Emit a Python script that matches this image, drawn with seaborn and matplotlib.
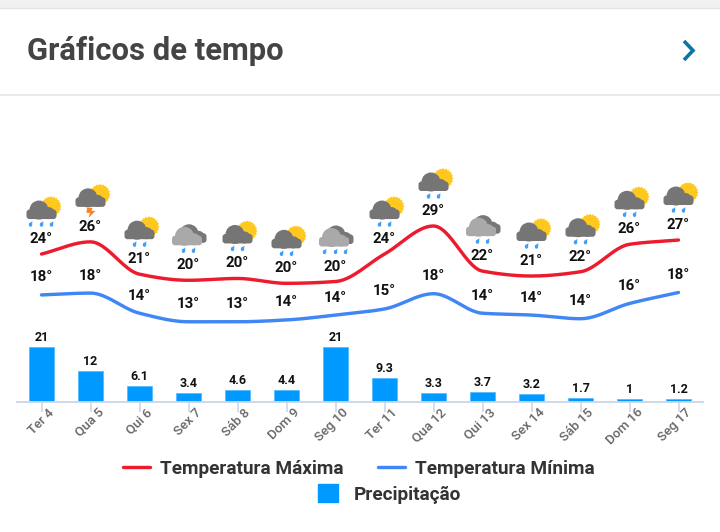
import numpy as np
import matplotlib
matplotlib.use("Agg")
import matplotlib.pyplot as plt
import seaborn as sns
from matplotlib.patches import Circle, Ellipse, FancyBboxPatch, Polygon, Patch, Rectangle
from matplotlib.lines import Line2D
from matplotlib.transforms import ScaledTranslation

days = ["Ter 4", "Qua 5", "Qui 6", "Sex 7", "Sáb 8", "Dom 9", "Seg 10",
        "Ter 11", "Qua 12", "Qui 13", "Sex 14", "Sáb 15", "Dom 16", "Seg 17"]
precip = [21, 12, 6.1, 3.4, 4.6, 4.4, 21, 9.3, 3.3, 3.7, 3.2, 1.7, 1, 1.2]
temp_max = [24.4, 26.4, 21.1, 20.1, 20.4, 19.6, 19.9, 24.4, 29.0, 21.6, 20.8, 21.5, 26.0, 26.7]
temp_min = [17.7, 18.0, 14.7, 13.3, 13.3, 13.6, 14.4, 15.4, 17.9, 14.7, 14.4, 13.8, 16.3, 18.1]
max_labels = [24, 26, 21, 20, 20, 20, 20, 24, 29, 22, 21, 22, 26, 27]
min_labels = [18, 18, 14, 13, 13, 14, 14, 15, 18, 14, 14, 14, 16, 18]
icons = ["sun3", "bolt", "sun2", "gray2", "sun2", "sun2", "gray3",
         "sun2", "sun2", "gray2", "sun2", "sun2", "sun2", "sun2"]

sns.set_theme(style="white")
plt.rcParams["font.family"] = ["Roboto", "DejaVu Sans"]

W, H = 720, 532
fig = plt.figure(figsize=(W / 100, H / 100), dpi=100, facecolor="white")
PX = 0.72  # points per pixel

page = fig.add_axes([0, 0, 1, 1], zorder=5)
page.set_xlim(0, W)
page.set_ylim(H, 0)
page.axis("off")
page.patch.set_alpha(0)

# card header
page.add_patch(Rectangle((0, 0), W, 7.5, color="#f1f1f1", lw=0))
page.plot([0, W], [8, 8], color="#e4e4e4", lw=1)
page.plot([0, W], [95, 95], color="#e8e8e8", lw=1.2)
page.text(27, 51, "Gráficos de tempo", fontsize=31 * PX, fontweight="bold",
          color="#444444", va="center", ha="left")
page.plot([684, 693, 684], [41, 50.5, 60], color="#0a76a8", lw=2.6,
          solid_joinstyle="miter", solid_capstyle="butt")

# chart axes
BASE, TOP, LEFT, RIGHT = 402, 130, 17, 703
ax = fig.add_axes([LEFT / W, 1 - BASE / H, (RIGHT - LEFT) / W, (BASE - TOP) / H])
pos = np.arange(len(days))
sns.barplot(x=pos, y=precip, native_scale=True, width=0.5, color="#0099ff",
            saturation=1, edgecolor="#4db8ff", linewidth=0.5, ax=ax)
ax.set_xlim(-0.5, 13.5)
ax.set_ylim(0, (BASE - TOP) / 2.62)
ax.set_yticks([])
ax.set_xlabel("")
ax.set_ylabel("")
for s in ["top", "left", "right"]:
    ax.spines[s].set_visible(False)
ax.spines["bottom"].set_color("#ccd6eb")
ax.spines["bottom"].set_linewidth(1.3)
ax.set_xticks(pos)
ax.set_xticklabels(days, rotation=45, ha="right", rotation_mode="anchor",
                   fontsize=13.2 * PX, color="#666666", fontweight="medium")
ax.tick_params(axis="x", length=10 * PX, width=1.2, color="#ccd6eb", pad=-3, bottom=True)
shift = ScaledTranslation(6.5 / 100, 2 / 100, fig.dpi_scale_trans)
for lab in ax.get_xticklabels():
    lab.set_transform(lab.get_transform() + shift)
for x, v in zip(pos, precip):
    ax.annotate(f"{v:g}", (x, v), xytext=(0, 9.5 * PX), textcoords="offset points",
                ha="center", va="center", fontsize=12.5 * PX, fontweight="bold", color="#111111")


def smooth(xs, ys, n=24):
    """Monotone cubic curve through the plotted values (the chart's smoothed line)."""
    xs, ys = np.asarray(xs, float), np.asarray(ys, float)
    d = np.diff(ys) / np.diff(xs)
    m = np.zeros_like(ys)
    m[0], m[-1] = d[0], d[-1]
    for k in range(1, len(ys) - 1):
        if d[k - 1] * d[k] > 0:
            m[k] = 2 * d[k - 1] * d[k] / (d[k - 1] + d[k])
    t = np.linspace(0, 1, n, endpoint=False)[None, :]
    y0, y1 = ys[:-1, None], ys[1:, None]
    m0, m1 = m[:-1, None], m[1:, None]
    yy = ((2*t**3 - 3*t**2 + 1) * y0 + (t**3 - 2*t**2 + t) * m0
          + (-2*t**3 + 3*t**2) * y1 + (t**3 - t**2) * m1).ravel()
    xx = (xs[:-1, None] + t).ravel()
    return np.r_[xx, xs[-1]], np.r_[yy, ys[-1]]


# temperature axis: 29 deg at y=226 px, 6.1 px per degree
tw = ax.twinx()
tw.set_ylim(29 - (BASE - 226) / 6.1, 29 + (226 - TOP) / 6.1)
tw.set_yticks([])
tw.set_ylabel("")
for s in tw.spines.values():
    s.set_visible(False)
RED, BLUE = "#ec1c2e", "#4087f5"
LW = 3.4 * PX
for series, col in [(temp_max, RED), (temp_min, BLUE)]:
    xx, yy = smooth(pos, series)
    sns.lineplot(x=xx, y=yy, color=col, linewidth=LW, ax=tw, solid_capstyle="round",
                 estimator=None, sort=False, legend=False)
tw.set_xlim(-0.5, 13.5)
tw.set_ylabel("")
for x, v, t in zip(pos, temp_max, max_labels):
    tw.annotate(f"{t}°", (x, v), xytext=(0, 15 * PX), textcoords="offset points",
                ha="center", va="center", fontsize=15 * PX, fontweight="bold", color="#111111")
for x, v, t in zip(pos, temp_min, min_labels):
    tw.annotate(f"{t}°", (x, v), xytext=(0, 17.5 * PX), textcoords="offset points",
                ha="center", va="center", fontsize=15 * PX, fontweight="bold", color="#111111")


# weather icons, placed above the value of each day's maximum
def drop(cx, cy):
    page.add_patch(Ellipse((cx, cy + 0.6), 3.4, 4.2, color="#3f9ffb", lw=0, zorder=6))
    page.add_patch(Polygon([(cx - 1.6, cy), (cx + 1.6, cy + 0.4), (cx + 1.9, cy - 3)],
                           color="#3f9ffb", lw=0, zorder=6))


def cloud(cx, cy, col, z):
    page.add_patch(FancyBboxPatch((cx - 12, cy - 6.5), 24, 3.5, boxstyle="round,pad=3",
                                  color=col, lw=0, zorder=z))
    page.add_patch(Circle((cx - 2.5, cy - 9), 9.5, color=col, lw=0, zorder=z))
    page.add_patch(Circle((cx + 7, cy - 6), 6, color=col, lw=0, zorder=z))


def sun(cx, cy):
    ang = np.linspace(0, 2 * np.pi, 40, endpoint=False)
    rad = np.where(np.arange(40) % 2 == 0, 10.4, 9.2)
    page.add_patch(Polygon(np.c_[cx + rad * np.cos(ang), cy + rad * np.sin(ang)],
                           color="#ffc81f", lw=0, zorder=6))


def icon(kind, cx, ly):
    by = ly - 20  # bottom of the cloud
    if kind.startswith("gray"):
        cloud(cx + 3, by - 2.5, "#777777", 6)
        cloud(cx - 1.5, by, "#a9a9a9", 7)
    else:
        sun(cx + 9.5, by - 12.5)
        cloud(cx, by, "#757575", 7)
    if kind.endswith("3"):
        for dx in (-11, 0, 10):
            drop(cx + dx, by + 5)
    elif kind.endswith("2"):
        for dx in (-5, 5):
            drop(cx + dx, by + 5)
    elif kind == "bolt":
        page.add_patch(Polygon(
            [(cx - 3.5, by + 1), (cx + 2, by + 1), (cx + 1, by + 4), (cx + 5, by + 4),
             (cx - 2, by + 11), (cx - 0.5, by + 6), (cx - 4, by + 6)],
            color="#ff7f27", lw=0, zorder=7))


fig.canvas.draw()
to_page = page.transData.inverted()
for x, v, k in zip(pos, temp_max, icons):
    px, py = to_page.transform(tw.transData.transform((x, v)))
    icon(k, px, py - 15)

# legends
FS = 19
leg_font = {"size": FS * PX, "weight": "bold"}
leg1 = page.legend(
    handles=[Line2D([], [], color=RED, lw=LW), Line2D([], [], color=BLUE, lw=LW)],
    labels=["Temperatura Máxima", "Temperatura Mínima"],
    ncol=2, loc="center", bbox_to_anchor=(359, 468.5), bbox_transform=page.transData,
    frameon=False, prop=leg_font, labelcolor="#333333",
    handlelength=1.42, handletextpad=0.53, columnspacing=1.84)
page.add_artist(leg1)
leg1.set_zorder(8)
page.legend(handles=[Patch(color="#0099ff")], labels=["Precipitação"],
            loc="center", bbox_to_anchor=(389.5, 494), bbox_transform=page.transData,
            frameon=False, prop=leg_font, labelcolor="#333333",
            handlelength=1.05, handleheight=1.0, handletextpad=0.85)

fig.savefig("out.png", dpi=100)
